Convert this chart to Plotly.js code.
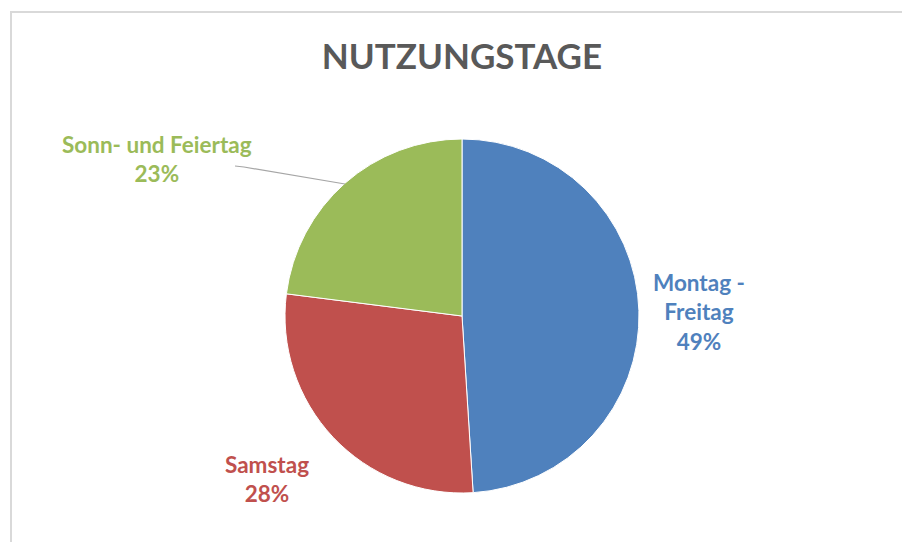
<!DOCTYPE html>
<html><head><meta charset="utf-8">
<script src="https://cdn.plot.ly/plotly-3.0.1.min.js"></script>
<style>html,body{margin:0;padding:0;background:#fff}#c{width:902px;height:542px}</style>
</head><body><div id="c"></div>
<script>
const categories = ["Montag - Freitag", "Samstag", "Sonn- und Feiertag"];
const values = [49, 28, 23];
const colors = ["#4F81BD", "#C0504D", "#9BBB59"];
const chartTitle = "NUTZUNGSTAGE";

const W = 902, H = 542;
const px = x => x / W, py = y => 1 - y / H;
const FONT = "Lato, 'Open Sans', sans-serif";

const total = values.reduce((a, b) => a + b, 0);
const pct = values.map(v => Math.round(v / total * 100) + "%");
const labelPos = [[699, 312], [267, 479], [157, 159]];
const labelText = categories.map((c, i) => c.replace(" - ", " -<br>") + "<br>" + pct[i]);

const annotations = labelText.map((t, i) => ({
  text: "<b>" + t + "</b>", x: px(labelPos[i][0]), y: py(labelPos[i][1]),
  xref: "paper", yref: "paper", showarrow: false, xanchor: "center", yanchor: "middle",
  font: {family: FONT, size: 22.5, color: colors[i]}, align: "center"
}));

const data = [{
  type: "pie", labels: categories, values: values, sort: false,
  direction: "clockwise", rotation: 0, textinfo: "none", hoverinfo: "label+percent",
  marker: {colors: colors, line: {color: "#ffffff", width: 1}},
  domain: {x: [px(285), px(639)], y: [py(493), py(139)]}, showlegend: false
}];

const layout = {
  width: W, height: H, margin: {l: 0, r: 0, t: 0, b: 0},
  paper_bgcolor: "#ffffff", plot_bgcolor: "#ffffff",
  title: {text: "<b>" + chartTitle + "</b>", x: px(462), xanchor: "center", y: py(57), yanchor: "middle",
    font: {family: FONT, size: 35, color: "#595959"}},
  annotations: annotations,
  shapes: [
    {type: "rect", xref: "paper", yref: "paper", x0: px(11), x1: px(910), y0: py(560), y1: py(12),
     line: {color: "#D9D9D9", width: 2}, fillcolor: "rgba(0,0,0,0)"},
    {type: "path", xref: "paper", yref: "paper",
     path: `M ${px(235)} ${py(166)} L ${px(244)} ${py(167)} L ${px(345)} ${py(184)}`,
     line: {color: "#A6A6A6", width: 1.2}}
  ]
};

Plotly.newPlot("c", data, layout, {displayModeBar: false, staticPlot: true});
</script></body></html>
